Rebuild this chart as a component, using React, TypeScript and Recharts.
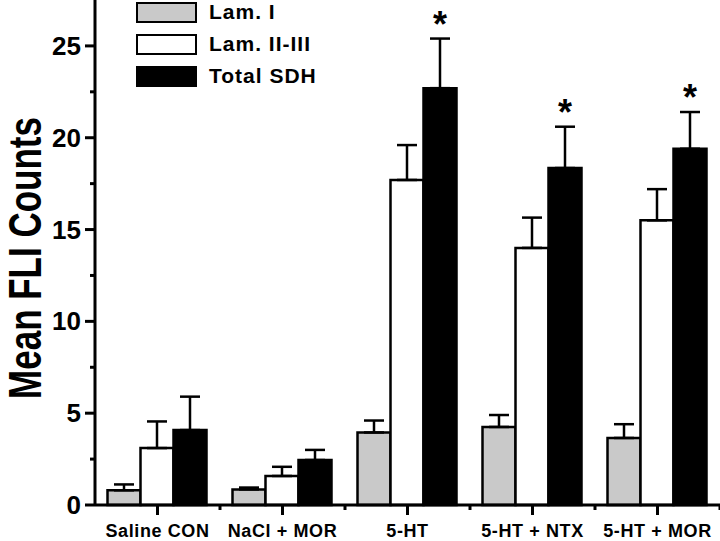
import { Bar, BarChart, ErrorBar, LabelList, XAxis, YAxis } from "recharts"

const groups = ["Saline CON", "NaCl + MOR", "5-HT", "5-HT + NTX", "5-HT + MOR"]
const lamI = [0.8, 0.85, 3.95, 4.25, 3.65]
const lamIErr = [0.32, 0.1, 0.65, 0.65, 0.75]
const lamII = [3.1, 1.58, 17.7, 14.0, 15.5]
const lamIIErr = [1.45, 0.5, 1.9, 1.65, 1.7]
const sdh = [4.08, 2.45, 22.7, 18.35, 19.4]
const sdhErr = [1.82, 0.55, 2.7, 2.25, 2.0]
const starred = [false, false, true, true, true]
const yTicks = [0, 2.5, 5, 7.5, 10, 12.5, 15, 17.5, 20, 22.5, 25]

const data = groups.map((g, i) => ({
  group: g,
  lamI: lamI[i],
  lamIErr: [0, lamIErr[i]],
  lamII: lamII[i],
  lamIIErr: [0, lamIIErr[i]],
  sdh: sdh[i],
  sdhErr: [0, sdhErr[i]],
}))

const FONT = "'Liberation Sans', Arial, sans-serif"
const W = 720
const H = 541
const LEFT = 95
const BAND = (W - LEFT) / groups.length

const YTick = ({ y, payload }: any) => {
  const major = payload.value % 5 === 0
  return (
    <g>
      <line x1={LEFT - (major ? 10 : 5)} x2={LEFT} y1={y} y2={y} stroke="#000" strokeWidth={3} />
      {major && (
        <text x={LEFT - 14} y={y} dy={9} textAnchor="end" fontFamily={FONT} fontWeight="bold" fontSize={26} fill="#000">
          {payload.value}
        </text>
      )}
    </g>
  )
}

const XTick = ({ x, y, payload }: any) => (
  <g>
    <line x1={x} x2={x} y1={y - 8} y2={y + 2} stroke="#000" strokeWidth={3} />
    <line x1={x + BAND / 2} x2={x + BAND / 2} y1={y - 8} y2={y - 3} stroke="#000" strokeWidth={3} />
    <text x={x} y={y + 24} textAnchor="middle" fontFamily={FONT} fontWeight="bold" fontSize={18} letterSpacing={0.6} fill="#000">
      {payload.value}
    </text>
  </g>
)

const YLabel = () => (
  <text
    transform="translate(41, 258) rotate(-90) scale(1, 1.3)"
    textAnchor="middle"
    fontFamily={FONT}
    fontWeight="bold"
    fontSize={35}
    fill="#000"
  >
    Mean FLI Counts
  </text>
)

const Star = ({ x, y, width, height, index }: any) => {
  if (!starred[index]) return null
  const base = y + height
  const perUnit = height / sdh[index]
  const top = base - (sdh[index] + sdhErr[index]) * perUnit
  return (
    <text x={x + width / 2} y={top - 2} textAnchor="middle" fontFamily={FONT} fontWeight="bold" fontSize={36} fill="#000">
      *
    </text>
  )
}

const legendItems = [
  { label: "Lam. I", fill: "#c9c9c9" },
  { label: "Lam. II-III", fill: "#ffffff" },
  { label: "Total SDH", fill: "#000000" },
]

const LegendBox = () => (
  <div style={{ position: "absolute", left: 136, top: -4, fontFamily: FONT, fontWeight: "bold", fontSize: 21, letterSpacing: 1 }}>
    {legendItems.map((it) => (
      <div key={it.label} style={{ display: "flex", alignItems: "center", height: 32 }}>
        <div style={{ width: 57, height: 17, background: it.fill, border: "2px solid #000", marginRight: 12 }} />
        <span>{it.label}</span>
      </div>
    ))}
  </div>
)

export default function App() {
  return (
    <div style={{ position: "absolute", left: 0, top: 0, width: W, height: H, background: "#fff" }}>
      <BarChart
        width={W}
        height={H}
        data={data}
        margin={{ top: 0, right: 0, left: 0, bottom: 0 }}
        barCategoryGap="10%"
        barGap={0}
      >
        <XAxis
          dataKey="group"
          axisLine={{ stroke: "#000", strokeWidth: 3 }}
          tickLine={false}
          tick={<XTick />}
          interval={0}
          height={36}
        />
        <YAxis
          width={LEFT}
          domain={[0, 27.5]}
          ticks={yTicks}
          interval={0}
          axisLine={{ stroke: "#000", strokeWidth: 3 }}
          tickLine={false}
          tick={<YTick />}
          label={<YLabel />}
        />
        <Bar dataKey="lamI" name="Lam. I" fill="#c9c9c9" stroke="#000" strokeWidth={2.5} isAnimationActive={false}>
          <ErrorBar dataKey="lamIErr" width={10} stroke="#000" strokeWidth={2.5} />
        </Bar>
        <Bar dataKey="lamII" name="Lam. II-III" fill="#fff" stroke="#000" strokeWidth={2.5} isAnimationActive={false}>
          <ErrorBar dataKey="lamIIErr" width={10} stroke="#000" strokeWidth={2.5} />
        </Bar>
        <Bar dataKey="sdh" name="Total SDH" fill="#000" stroke="#000" strokeWidth={2.5} isAnimationActive={false}>
          <ErrorBar dataKey="sdhErr" width={10} stroke="#000" strokeWidth={2.5} />
          <LabelList dataKey="sdh" content={<Star />} />
        </Bar>
      </BarChart>
      <LegendBox />
    </div>
  )
}
